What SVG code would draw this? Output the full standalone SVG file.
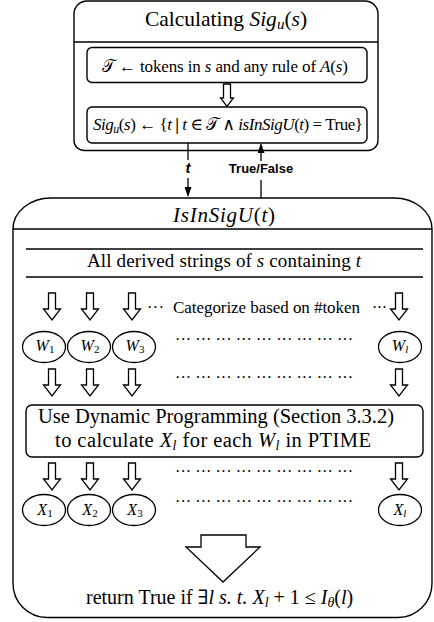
<svg xmlns="http://www.w3.org/2000/svg" xmlns:xlink="http://www.w3.org/1999/xlink" width="434" height="622" viewBox="0 0 434 622">
<style>
text { font-family: "Liberation Serif", "DejaVu Serif", serif; fill: #000; }
.i { font-style: italic; }
.m { text-anchor: middle; }
.box { fill: #fff; stroke: #000; stroke-width: 1.4; }
.ln { stroke: #000; stroke-width: 1.3; fill: none; }
.ha { fill: #fff; stroke: #000; stroke-width: 1.3; }
.ell { fill: #fff; stroke: #000; stroke-width: 1.3; }
.lbl { font-family: "Liberation Sans", Arial, sans-serif; font-weight: bold; }
.dots { font-size: 16px; }
</style>
<defs>
<path id="sa" class="ha" d="M-3.5,0 H3.5 V16 H8.5 L0,27 L-8.5,16 H-3.5 Z"/>
<marker id="ah" viewBox="0 0 10 7" refX="8.5" refY="3.5" markerUnits="userSpaceOnUse" markerWidth="10" markerHeight="7" orient="auto"><path d="M0,0 L10,3.5 L0,7 Z" fill="#000"/></marker>
</defs>

<g id="calc-box">
<path class="box" d="M87,1 H365 A13,13 0 0 1 378,14 V140.5 A10,10 0 0 1 368,150.5 H84 A10,10 0 0 1 74,140.5 V14 A13,13 0 0 1 87,1 Z"/>
<line class="ln" x1="74" y1="42" x2="378" y2="42"/>
<text x="226" y="26" class="m" font-size="21.5">Calculating <tspan class="i">Sig</tspan><tspan class="i" font-size="15" dy="3">u</tspan><tspan dy="-3">(</tspan><tspan class="i">s</tspan>)</text>
</g>

<g id="tokens-box">
<rect class="box" x="87" y="47.5" width="280" height="35" rx="5"/>
<text x="102" y="72" font-size="17" textLength="246" lengthAdjust="spacing">𝒯 ← tokens in <tspan class="i">s</tspan> and any rule of <tspan class="i">A</tspan>(<tspan class="i">s</tspan>)</text>
</g>

<g id="sig-box">
<rect class="box" x="87" y="107" width="280" height="36" rx="5"/>
<text x="93" y="130" font-size="17" textLength="270" lengthAdjust="spacing"><tspan class="i">Sig</tspan><tspan class="i" font-size="12" dy="3">u</tspan><tspan dy="-3">(</tspan><tspan class="i">s</tspan>) ← {<tspan class="i">t</tspan> <tspan font-weight="bold">|</tspan> <tspan class="i">t</tspan> ∈ 𝒯 ∧ <tspan class="i">isInSigU</tspan>(<tspan class="i">t</tspan>) = True}</text>
</g>

<g id="isinsigu-box">
<path class="box" d="M51,198 H394 A38,31 0 0 1 432,229 V583.5 A34,34 0 0 1 398,617.5 H47 A34,34 0 0 1 13,583.5 V229 A38,31 0 0 1 51,198 Z"/>
<line class="ln" x1="13" y1="229" x2="432" y2="229"/>
<text x="173" y="222" font-size="21" textLength="102" lengthAdjust="spacing"><tspan class="i">IsInSigU</tspan>(<tspan class="i">t</tspan>)</text>
</g>

<g id="derived">
<line class="ln" x1="26" y1="249" x2="423" y2="249"/>
<line class="ln" x1="26" y1="277" x2="423" y2="277"/>
<text x="87" y="267" font-size="19" textLength="274" lengthAdjust="spacing">All derived strings of <tspan class="i">s</tspan> containing <tspan class="i">t</tspan></text>
</g>

<g id="categorize">
<text x="147" y="313" class="dots" textLength="17" lengthAdjust="spacing">···</text>
<text x="173" y="313" font-size="17" textLength="187" lengthAdjust="spacing">Categorize based on #token</text>
<text x="372" y="313" class="dots" textLength="15" lengthAdjust="spacing">···</text>
</g>

<g id="w-nodes">
<ellipse class="ell" cx="44" cy="347" rx="21.5" ry="15.5"/>
<ellipse class="ell" cx="89" cy="347" rx="21.5" ry="15.5"/>
<ellipse class="ell" cx="134" cy="347" rx="21.5" ry="15.5"/>
<ellipse class="ell" cx="400" cy="347" rx="21.5" ry="15.5"/>
<text x="45" y="351" class="m" font-size="16"><tspan class="i">W</tspan><tspan font-size="11" dy="2">1</tspan></text>
<text x="90" y="351" class="m" font-size="16"><tspan class="i">W</tspan><tspan font-size="11" dy="2">2</tspan></text>
<text x="135" y="351" class="m" font-size="16"><tspan class="i">W</tspan><tspan font-size="11" dy="2">3</tspan></text>
<text x="400" y="351" class="m" font-size="16"><tspan class="i">W</tspan><tspan class="i" font-size="11" dy="2">l</tspan></text>
<text x="175" y="345" class="dots" textLength="178" lengthAdjust="spacing">··· ··· ··· ··· ··· ··· ··· ··· ···</text>
<text x="175" y="383" class="dots" textLength="178" lengthAdjust="spacing">··· ··· ··· ··· ··· ··· ··· ··· ···</text>
</g>

<g id="dp-box">
<rect class="box" x="26" y="405" width="397" height="52" rx="6"/>
<text x="38" y="423" font-size="20.5" textLength="356" lengthAdjust="spacing">Use Dynamic Programming (Section 3.3.2)</text>
<text x="55" y="447" font-size="20.5" textLength="316" lengthAdjust="spacing">to calculate <tspan class="i">X</tspan><tspan class="i" font-size="14" dy="3">l</tspan><tspan dy="-3"> for each </tspan><tspan class="i">W</tspan><tspan class="i" font-size="14" dy="3">l</tspan><tspan dy="-3"> in PTIME</tspan></text>
</g>

<g id="x-nodes">
<text x="175" y="477" class="dots" textLength="178" lengthAdjust="spacing">··· ··· ··· ··· ··· ··· ··· ··· ···</text>
<ellipse class="ell" cx="44" cy="510" rx="21.5" ry="15.5"/>
<ellipse class="ell" cx="89" cy="510" rx="21.5" ry="15.5"/>
<ellipse class="ell" cx="134" cy="510" rx="21.5" ry="15.5"/>
<ellipse class="ell" cx="400" cy="510" rx="21.5" ry="15.5"/>
<text x="45" y="515" class="m" font-size="16"><tspan class="i">X</tspan><tspan font-size="11" dy="2">1</tspan></text>
<text x="90" y="515" class="m" font-size="16"><tspan class="i">X</tspan><tspan font-size="11" dy="2">2</tspan></text>
<text x="135" y="515" class="m" font-size="16"><tspan class="i">X</tspan><tspan font-size="11" dy="2">3</tspan></text>
<text x="400" y="515" class="m" font-size="16"><tspan class="i">X</tspan><tspan class="i" font-size="11" dy="2">l</tspan></text>
<text x="175" y="507" class="dots" textLength="178" lengthAdjust="spacing">··· ··· ··· ··· ··· ··· ··· ··· ···</text>
</g>

<g id="result">
<text x="86" y="604" font-size="20">return True if ∃<tspan class="i">l s. t.</tspan>  <tspan class="i">X</tspan><tspan class="i" font-size="14" dy="3">l</tspan><tspan dy="-3"> + 1 ≤ </tspan><tspan class="i">I</tspan><tspan class="i" font-size="14" dy="3">θ</tspan><tspan dy="-3">(</tspan><tspan class="i">l</tspan>)</text>
</g>

<g id="connectors">
<line class="ln" x1="188" y1="143" x2="188" y2="160"/>
<line class="ln" x1="188" y1="178" x2="188" y2="195.5" marker-end="url(#ah)"/>
<text x="188" y="173" class="m lbl" font-size="15" font-style="italic">t</text>
<line class="ln" x1="261" y1="198" x2="261" y2="180"/>
<line class="ln" x1="261" y1="161" x2="261" y2="144.5" marker-end="url(#ah)"/>
<text x="261" y="173" class="m lbl" font-size="13">True/False</text>
<path class="ha" d="M223.5,84 H230.5 V98 H233.5 L227,106.5 L220.5,98 H223.5 Z"/>
<use xlink:href="#sa" x="52" y="293"/>
<use xlink:href="#sa" x="90" y="293"/>
<use xlink:href="#sa" x="132" y="293"/>
<use xlink:href="#sa" x="399" y="293"/>
<use xlink:href="#sa" x="52" y="369"/>
<use xlink:href="#sa" x="90" y="369"/>
<use xlink:href="#sa" x="132" y="369"/>
<use xlink:href="#sa" x="399" y="369"/>
<use xlink:href="#sa" x="52" y="463"/>
<use xlink:href="#sa" x="90" y="463"/>
<use xlink:href="#sa" x="132" y="463"/>
<use xlink:href="#sa" x="399" y="463"/>
<path class="ha" d="M201,535 H246 V547 H260 L223,582 L186,547 H201 Z"/>
</g>
</svg>
